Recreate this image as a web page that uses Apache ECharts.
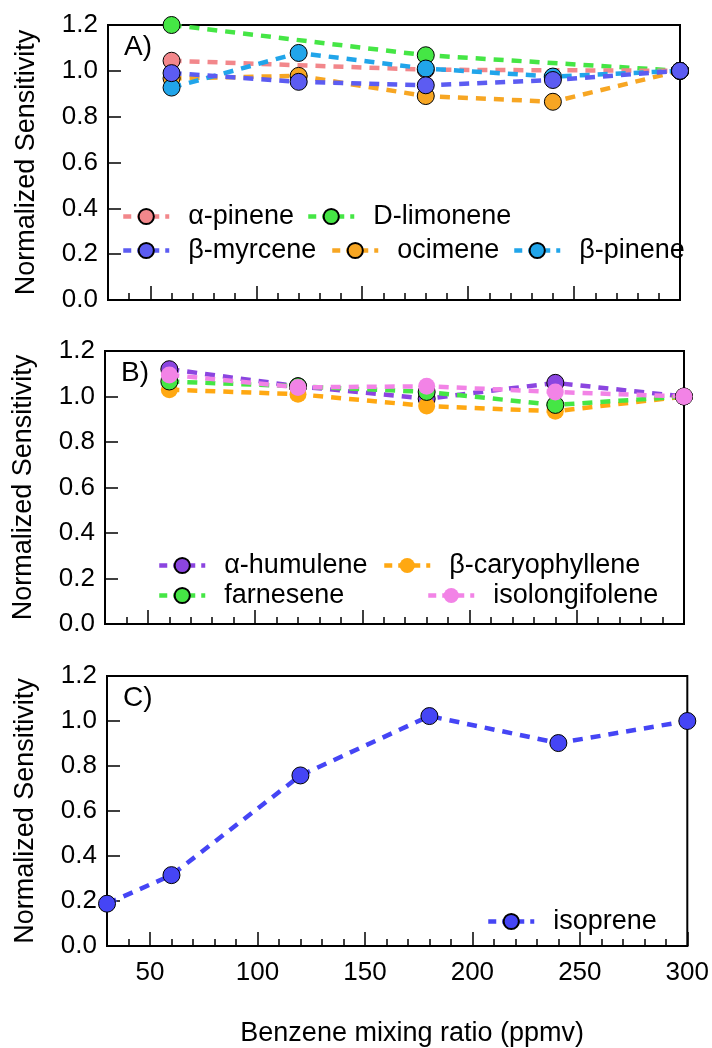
<!DOCTYPE html>
<html>
<head>
<meta charset="utf-8">
<script src="https://cdn.jsdelivr.net/npm/echarts@6/dist/echarts.min.js"></script>
<style>
html,body{margin:0;padding:0;background:#fff;}
#chart{width:712px;height:1048px;}
</style>
</head>
<body>
<div id="chart"></div>
<script>
// ---------- data ----------
const xVals = [60, 120, 180, 240, 300];
const xValsC = [30, 60, 120, 180, 240, 300];
const yTicks = [0, 0.2, 0.4, 0.6, 0.8, 1.0, 1.2];
const xTickLabels = [50, 100, 150, 200, 250, 300];

// Panel A (null = no point)
const alphaPinene = [1.044, null, 1.005, null, 1.0];
const dLimonene   = [1.2, null, 1.068, null, 1.0];
const ocimene     = [0.967, 0.978, 0.89, 0.865, 1.0];
const betaPinene  = [0.927, 1.078, 1.01, 0.975, 1.0];
const betaMyrcene = [0.99, 0.952, 0.937, 0.96, 1.0];

// Panel B
const alphaHumulene    = [1.12, 1.045, 0.99, 1.06, 1.0];
const betaCaryophyllene = [1.03, 1.01, 0.958, 0.935, 1.0];
const farnesene        = [1.066, 1.045, 1.02, 0.963, 1.0];
const isolongifolene   = [1.095, 1.04, 1.045, 1.02, 1.0];

// Panel C
const isoprene = [0.188, 0.315, 0.758, 1.022, 0.902, 1.0];

// ---------- helpers ----------
const FONT = 'Liberation Sans';
function pairs(xs, ys){ const out=[]; xs.forEach((x,i)=>{ if(ys[i]!==null) out.push([x, ys[i]]); }); return out; }

const grids = [
  {left:108, top:25, width:572, height:275},
  {left:105, top:351, width:579, height:273},
  {left:107, top:676, width:581, height:273}
];

const xAxes = [], yAxes = [];
grids.forEach((g, i) => {
  xAxes.push({
    gridIndex:i, type:'value', min:30, max:300, interval:10, position:'bottom',
    axisLine:{show:true, lineStyle:{color:'#000', width:2}},
    axisTick:{show:true, inside:true, length:7, lineStyle:{color:'#000', width:1.5}},
    axisLabel:{show:false}, splitLine:{show:false}
  });
  xAxes.push({
    gridIndex:i, type:'value', min:30, max:300, position:'bottom',
    axisLine:{show:false},
    axisTick:{show:true, inside:true, length:14, customValues:xTickLabels, lineStyle:{color:'#000', width:1.5}},
    axisLabel:{show: i===2, customValues:xTickLabels, fontSize:26, fontFamily:FONT, color:'#000', margin:14},
    splitLine:{show:false},
    name: i===2 ? 'Benzene mixing ratio (ppmv)' : '',
    nameLocation:'middle', nameGap:74,
    nameTextStyle:{fontSize:27, fontFamily:FONT, color:'#000', padding:[0,0,0,30]}
  });
  yAxes.push({
    gridIndex:i, type:'value', min:0, max:1.2, interval:0.2,
    axisLine:{show:true, lineStyle:{color:'#000', width:2}},
    axisTick:{show:true, inside:true, length:13, lineStyle:{color:'#000', width:1.5}},
    axisLabel:{fontSize:26, fontFamily:FONT, color:'#000', margin:10, formatter:v=>v.toFixed(1)},
    splitLine:{show:false},
    name:'Normalized Sensitivity', nameLocation:'middle', nameGap:68, nameRotate:90,
    nameTextStyle:{fontSize:27, fontFamily:FONT, color:'#000'}
  });
});

function ser(name, grid, xs, ys, color, outline){
  return {
    name, type:'line', xAxisIndex:grid*2, yAxisIndex:grid,
    data: pairs(xs, ys),
    symbol:'circle', symbolSize:17,
    lineStyle:{color, width:4.5, type:[10,8]},
    itemStyle:{color, borderColor: outline ? '#000' : color, borderWidth: outline ? 1 : 0},
    emphasis:{disabled:true}, animation:false, z:2
  };
}

const series = [
  ser('D-limonene', 0, xVals, dLimonene, '#45E645', true),
  ser('α-pinene', 0, xVals, alphaPinene, '#F2878B', true),
  ser('ocimene', 0, xVals, ocimene, '#F7A623', true),
  ser('β-pinene', 0, xVals, betaPinene, '#21A5EA', true),
  ser('β-myrcene', 0, xVals, betaMyrcene, '#5C5CF2', true),
  ser('α-humulene', 1, xVals, alphaHumulene, '#8B45E0', true),
  ser('β-caryophyllene', 1, xVals, betaCaryophyllene, '#FFA812', false),
  ser('farnesene', 1, xVals, farnesene, '#45E645', true),
  ser('isolongifolene', 1, xVals, isolongifolene, '#F283E6', false),
  ser('isoprene', 2, xValsC, isoprene, '#4545F5', true)
];

function leg(name, left, center){
  return {
    data:[name], left, top:center-14, orient:'horizontal',
    itemWidth:46, itemHeight:19, itemGap:0, padding:0, selectedMode:false,
    lineStyle:{width:4.5, type:[8,6]},
    textStyle:{fontSize:27, fontFamily:FONT, color:'#000', padding:[0,0,0,14]}
  };
}

const legends = [
  leg('α-pinene', 121, 217), leg('D-limonene', 306, 217),
  leg('β-myrcene', 121, 251), leg('ocimene', 330, 251), leg('β-pinene', 512, 251),
  leg('α-humulene', 157, 566), leg('β-caryophyllene', 382, 566),
  leg('farnesene', 157, 596), leg('isolongifolene', 426, 596),
  leg('isoprene', 486, 922)
];

const panelLabels = ['A)', 'B)', 'C)'];
const graphics = panelLabels.map((t, i) => ({
  type:'text', left:grids[i].left + 16, top:grids[i].top + 8,
  style:{text:t, fontSize:28, fontFamily:FONT, fill:'#000'}
}));

const chart = echarts.init(document.getElementById('chart'), null, {renderer:'canvas'});
chart.setOption({
  backgroundColor:'#fff',
  animation:false,
  grid: grids.map(g => Object.assign({show:true, borderColor:'#000', borderWidth:2, backgroundColor:'transparent'}, g)),
  xAxis: xAxes,
  yAxis: yAxes,
  legend: legends,
  graphic: graphics,
  series
});
</script>
</body>
</html>
